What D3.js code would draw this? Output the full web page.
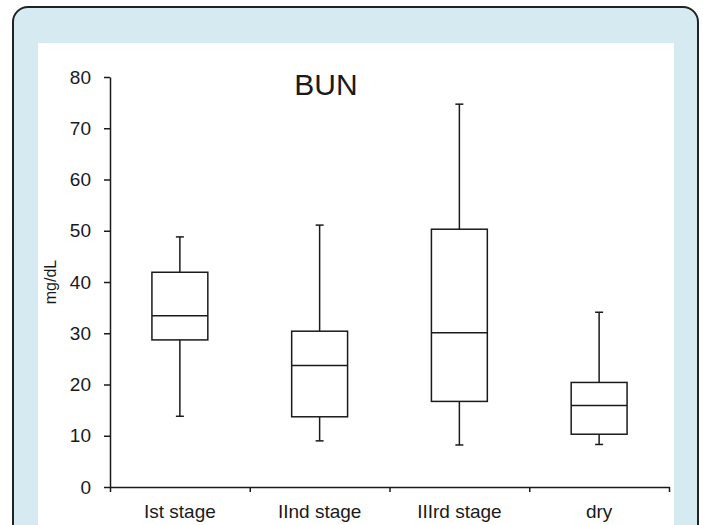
<!DOCTYPE html>
<html>
<head>
<meta charset="utf-8">
<script src="https://cdn.jsdelivr.net/npm/d3@7"></script>
<style>
  body { margin: 0; background: #fff; }
  svg text { font-family: "Liberation Sans", Arial, sans-serif; fill: #1a1a1a; }
</style>
</head>
<body>
<div id="chart"></div>
<script>
// Box plot values (mg/dL)
const categories = ['Ist stage', 'IInd stage', 'IIIrd stage', 'dry'];
const whiskerLow = [13.8, 9.0, 8.2, 8.3];
const q1 = [28.7, 13.7, 16.7, 10.3];
const median = [33.4, 23.7, 30.1, 15.9];
const q3 = [41.9, 30.4, 50.3, 20.4];
const whiskerHigh = [48.8, 51.1, 74.7, 34.1];
const yTicks = [0, 10, 20, 30, 40, 50, 60, 70, 80];

const W = 703, H = 525;
const plot = { left: 110, right: 669, top: 77, bottom: 487 };
const ink = '#1a1a1a';

const svg = d3.select('#chart')
  .append('svg')
  .attr('width', W)
  .attr('height', H);

// Frame: light blue rounded panel with white inner area
svg.append('rect')
  .attr('x', 13).attr('y', 7)
  .attr('width', 685).attr('height', 560)
  .attr('rx', 15)
  .attr('fill', '#d6ebf1')
  .attr('stroke', '#222')
  .attr('stroke-width', 2);

svg.append('rect')
  .attr('x', 38).attr('y', 43)
  .attr('width', 636).attr('height', 500)
  .attr('fill', '#fff');

// Scales
const x = d3.scaleBand()
  .domain(categories)
  .range([plot.left, plot.right])
  .padding(0);

const xEdge = d3.scaleLinear()
  .domain([0, categories.length])
  .range([plot.left, plot.right]);

const y = d3.scaleLinear()
  .domain([0, 80])
  .range([plot.bottom, plot.top]);

// Y axis
const yAxis = svg.append('g')
  .attr('transform', `translate(${plot.left},0)`)
  .call(d3.axisLeft(y).tickValues(yTicks).tickSize(6).tickSizeOuter(0).tickPadding(13));
yAxis.selectAll('text').style('font-size', '19px');

// X axis: ticks on category edges, labels centred
const xTicks = svg.append('g')
  .attr('transform', `translate(0,${plot.bottom})`)
  .call(d3.axisBottom(xEdge).tickValues(d3.range(categories.length + 1)).tickFormat('').tickSize(5).tickSizeOuter(0));

const xLabels = svg.append('g')
  .attr('transform', `translate(0,${plot.bottom})`)
  .call(d3.axisBottom(x).tickSize(0).tickPadding(18));
xLabels.select('.domain').remove();
xLabels.selectAll('text').style('font-size', '19px');

svg.selectAll('.domain, .tick line')
  .attr('stroke', ink)
  .attr('stroke-width', 1.5);

// Axis title
svg.append('text')
  .attr('transform', `translate(56,${y(40)}) rotate(-90)`)
  .attr('text-anchor', 'middle')
  .style('font-size', '16px')
  .text('mg/dL');

// Chart title
svg.append('text')
  .attr('x', 326)
  .attr('y', 95)
  .attr('text-anchor', 'middle')
  .style('font-size', '30px')
  .text('BUN');

// Boxes
const boxW = x.bandwidth() * 0.4;
const capW = 8;
const stats = categories.map((c, i) => ({
  cat: c, lo: whiskerLow[i], q1: q1[i], med: median[i], q3: q3[i], hi: whiskerHigh[i]
}));

const boxes = svg.append('g')
  .selectAll('g')
  .data(stats)
  .enter()
  .append('g')
  .attr('transform', d => `translate(${x(d.cat) + x.bandwidth() / 2},0)`)
  .attr('stroke', ink)
  .attr('stroke-width', 1.5)
  .attr('fill', 'none');

// whiskers
boxes.append('line')
  .attr('x1', 0).attr('x2', 0)
  .attr('y1', d => y(d.q3)).attr('y2', d => y(d.hi));
boxes.append('line')
  .attr('x1', 0).attr('x2', 0)
  .attr('y1', d => y(d.q1)).attr('y2', d => y(d.lo));
boxes.append('line')
  .attr('x1', -capW / 2).attr('x2', capW / 2)
  .attr('y1', d => y(d.hi)).attr('y2', d => y(d.hi));
boxes.append('line')
  .attr('x1', -capW / 2).attr('x2', capW / 2)
  .attr('y1', d => y(d.lo)).attr('y2', d => y(d.lo));

// box + median
boxes.append('rect')
  .attr('x', -boxW / 2)
  .attr('width', boxW)
  .attr('y', d => y(d.q3))
  .attr('height', d => y(d.q1) - y(d.q3));
boxes.append('line')
  .attr('x1', -boxW / 2).attr('x2', boxW / 2)
  .attr('y1', d => y(d.med)).attr('y2', d => y(d.med));
</script>
</body>
</html>
